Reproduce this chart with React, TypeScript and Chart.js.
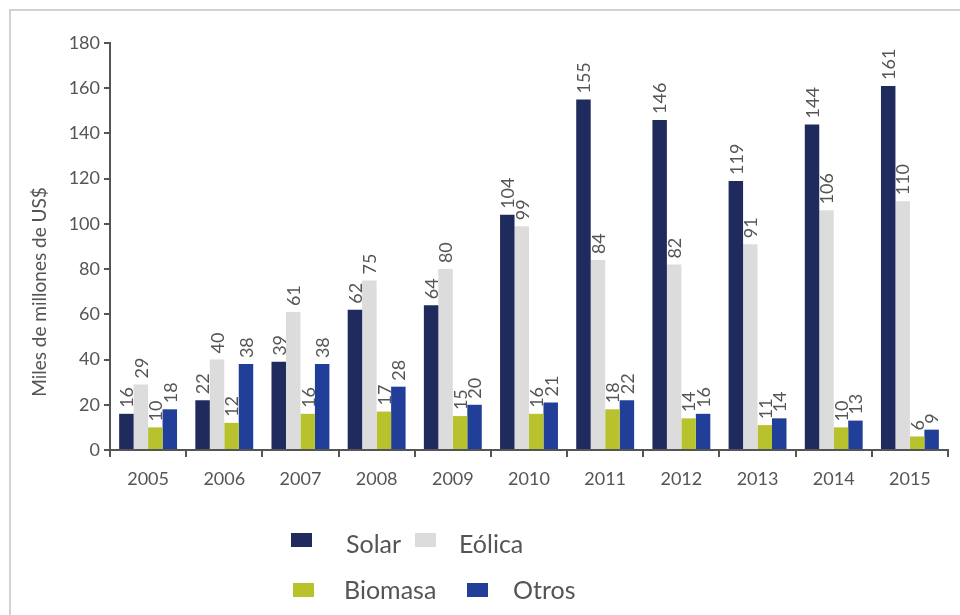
import React, { useEffect, useRef } from "react";
import { Chart, registerables } from "chart.js";

Chart.register(...registerables);

const years = ["2005", "2006", "2007", "2008", "2009", "2010", "2011", "2012", "2013", "2014", "2015"];
const solar = [16, 22, 39, 62, 64, 104, 155, 146, 119, 144, 161];
const eolica = [29, 40, 61, 75, 80, 99, 84, 82, 91, 106, 110];
const biomasa = [10, 12, 16, 17, 15, 16, 18, 14, 11, 10, 6];
const otros = [18, 38, 38, 28, 20, 21, 22, 16, 14, 13, 9];
const seriesNames = ["Solar", "Eólica", "Biomasa", "Otros"];
const seriesColors = ["#1f2b5c", "#dcdcdc", "#b7c22c", "#213f98"];
const yTitle = "Miles de millones de US$";

const FONT = "Lato, 'Open Sans', sans-serif";
const TEXT = "#555555";

const labelPlugin = {
  id: "barLabels",
  afterDatasetsDraw(chart: any) {
    const ctx = chart.ctx;
    ctx.save();
    ctx.fillStyle = TEXT;
    ctx.font = `18px ${FONT}`;
    chart.data.datasets.forEach((ds: any, i: number) => {
      const meta = chart.getDatasetMeta(i);
      meta.data.forEach((el: any, j: number) => {
        ctx.save();
        ctx.translate(el.x, el.y - 6);
        ctx.rotate(-Math.PI / 2);
        ctx.textAlign = "left";
        ctx.textBaseline = "middle";
        ctx.fillText(String(ds.data[j]), 0, 1);
        ctx.restore();
      });
    });
    // y title
    ctx.save();
    ctx.translate(40, 292);
    ctx.rotate(-Math.PI / 2);
    ctx.textAlign = "center";
    ctx.textBaseline = "middle";
    ctx.font = `19px ${FONT}`;
    ctx.fillText(yTitle, 0, 0);
    ctx.restore();
    ctx.restore();
  },
};

const legendPos = [
  { bx: 291, by: 533, tx: 346, ty: 543 },
  { bx: 415, by: 533, tx: 459, ty: 543 },
  { bx: 293, by: 583, tx: 344, ty: 589 },
  { bx: 467, by: 583, tx: 513, ty: 589 },
];

export default function App() {
  const ref = useRef<HTMLCanvasElement>(null);
  useEffect(() => {
    const data = [solar, eolica, biomasa, otros];
    const chart = new Chart(ref.current as HTMLCanvasElement, {
      type: "bar",
      data: {
        labels: years,
        datasets: seriesNames.map((n, i) => ({
          label: n,
          data: data[i],
          backgroundColor: seriesColors[i],
          borderWidth: 0,
          categoryPercentage: 0.76,
          barPercentage: 1.0,
        })),
      },
      options: {
        animation: false,
        responsive: false,
        layout: { padding: { left: 0, right: 12, top: 43, bottom: 0 } },
        plugins: { legend: { display: false }, tooltip: { enabled: false } },
        scales: {
          x: {
            grid: { drawOnChartArea: false, tickLength: 7, color: "#555", lineWidth: 2 },
            border: { color: "#555", width: 2 },
            ticks: { color: TEXT, font: { size: 18, family: FONT }, padding: 11 },
            afterFit: (s: any) => { s.height = 165; },
          },
          y: {
            min: 0,
            max: 180,
            grid: { drawOnChartArea: false, tickLength: 6, color: "#555", lineWidth: 2 },
            border: { color: "#555", width: 2 },
            ticks: { stepSize: 20, color: TEXT, font: { size: 18, family: FONT }, padding: 4 },
            afterFit: (s: any) => { s.width = 110; },
          },
        },
      },
      plugins: [labelPlugin],
    });
    return () => chart.destroy();
  }, []);
  return (
    <div style={{ position: "fixed", left: 0, top: 0, width: 960, height: 615, background: "#fff", overflow: "hidden", fontFamily: FONT }}>
      <div style={{ position: "absolute", left: 9, top: 9, right: -5, bottom: -5, borderTop: "2px solid #d2d2d2", borderLeft: "2px solid #d2d2d2" }} />
      <canvas ref={ref} width={960} height={615} style={{ position: "absolute", left: 0, top: 0 }} />
      {seriesNames.map((n, i) => (
        <React.Fragment key={n}>
          <div style={{ position: "absolute", left: legendPos[i].bx, top: legendPos[i].by, width: 21, height: 14, background: seriesColors[i] }} />
          <div style={{ position: "absolute", left: legendPos[i].tx, top: legendPos[i].ty - 15, fontSize: 25, lineHeight: "30px", color: TEXT }}>{n}</div>
        </React.Fragment>
      ))}
    </div>
  );
}
